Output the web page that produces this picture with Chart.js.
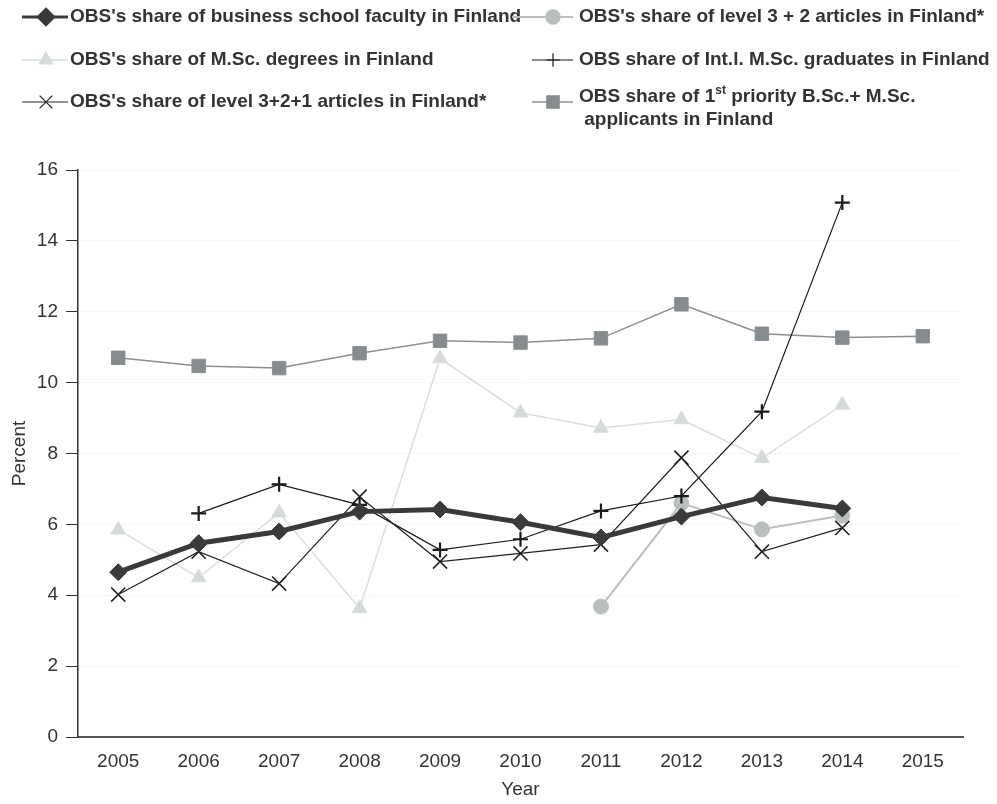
<!DOCTYPE html>
<html>
<head>
<meta charset="utf-8">
<script src="https://cdn.jsdelivr.net/npm/chart.js@4/dist/chart.umd.min.js"></script>
<style>
  html, body { margin: 0; padding: 0; background: #fff; }
  #wrap { width: 997px; height: 804px; position: relative; }
</style>
</head>
<body>
<div id="wrap"><canvas id="chart" width="997" height="804"></canvas></div>
<script>
// --- Data ---
const years = ['2005', '2006', '2007', '2008', '2009', '2010', '2011', '2012', '2013', '2014', '2015'];
const faculty = [4.65, 5.47, 5.80, 6.36, 6.42, 6.06, 5.63, 6.22, 6.76, 6.45, null];
const mscDegrees = [5.85, 4.50, 6.33, 3.63, 10.68, 9.15, 8.72, 8.96, 7.87, 9.37, null];
const articles321 = [4.02, 5.23, 4.33, 6.78, 4.95, 5.18, 5.43, 7.88, 5.23, 5.90, null];
const articles32 = [null, null, null, null, null, null, 3.68, 6.60, 5.86, 6.25, null];
const intlGrads = [null, 6.31, 7.13, 6.55, 5.28, 5.58, 6.38, 6.80, 9.18, 15.08, null];
const applicants = [10.70, 10.47, 10.41, 10.83, 11.18, 11.13, 11.25, 12.21, 11.38, 11.27, 11.31];
const yTicks = [0, 2, 4, 6, 8, 10, 12, 14, 16];

const FONT = '"Liberation Sans", Arial, sans-serif';
const TEXT = '#333';

const datasets = [
  { label: "OBS's share of business school faculty in Finland", data: faculty,
    borderColor: '#3a3a3a', backgroundColor: '#3a3a3a', borderWidth: 5,
    pointStyle: 'rectRot', pointRadius: 8.5, pointBorderWidth: 1, order: 0 },
  { label: "OBS's share of M.Sc. degrees in Finland", data: mscDegrees,
    borderColor: '#d9dedd', backgroundColor: '#d6dbda', borderWidth: 1.5,
    pointStyle: 'triangle', pointRadius: 8.5, pointBorderWidth: 1, order: 5 },
  { label: "OBS's share of level 3+2+1 articles in Finland*", data: articles321,
    borderColor: '#222', backgroundColor: '#222', borderWidth: 1.2,
    pointStyle: 'crossRot', pointRadius: 10, pointBorderWidth: 1.6, order: 2 },
  { label: "OBS's share of level 3 + 2 articles in Finland*", data: articles32,
    borderColor: '#b8bfbe', backgroundColor: '#b8bfbe', borderWidth: 2,
    pointStyle: 'circle', pointRadius: 7.5, pointBorderWidth: 1, order: 3 },
  { label: 'OBS share of Int.l. M.Sc. graduates in Finland', data: intlGrads,
    borderColor: '#1a1a1a', backgroundColor: '#1a1a1a', borderWidth: 1.2,
    pointStyle: 'cross', pointRadius: 7.5, pointBorderWidth: 2.2, order: 1 },
  { label: 'OBS share of 1st priority B.Sc.+ M.Sc. applicants in Finland', data: applicants,
    borderColor: '#8a8f90', backgroundColor: '#868c8d', borderWidth: 1.5,
    pointStyle: 'rect', pointRadius: 9.5, pointBorderWidth: 1, order: 4 }
];

// --- Custom two column legend ---
const legendPlugin = {
  id: 'twoColLegend',
  afterDraw(chart) {
    const ctx = chart.ctx;
    const rows = [
      { ds: 0, x1: 22, x2: 68, mx: 46, tx: 70, y: 17, lines: [[datasets[0].label]] },
      { ds: 1, x1: 22, x2: 68, mx: 46, tx: 70, y: 60, lines: [[datasets[1].label]] },
      { ds: 2, x1: 22, x2: 68, mx: 46, tx: 70, y: 102, lines: [[datasets[2].label]] },
      { ds: 3, x1: 512, x2: 573, mx: 553, tx: 579, y: 17, lines: [[datasets[3].label]] },
      { ds: 4, x1: 532, x2: 573, mx: 553, tx: 579, y: 60, lines: [[datasets[4].label]] },
      { ds: 5, x1: 532, x2: 573, mx: 553, tx: 579, y: 102,
        lines: [['OBS share of 1', 'st', ' priority B.Sc.+ M.Sc.'], [' applicants in Finland']] }
    ];
    ctx.save();
    rows.forEach(r => {
      const d = datasets[r.ds];
      ctx.strokeStyle = d.borderColor;
      ctx.lineWidth = Math.min(d.borderWidth, 3);
      ctx.beginPath();
      ctx.moveTo(r.x1, r.y);
      ctx.lineTo(r.x2, r.y);
      ctx.stroke();
      ctx.fillStyle = d.backgroundColor;
      ctx.strokeStyle = d.backgroundColor;
      Chart.helpers.drawPoint(ctx, {
        pointStyle: d.pointStyle, radius: d.pointRadius * 0.9, rotation: 0,
        borderWidth: d.pointBorderWidth
      }, r.mx, r.y);

      ctx.fillStyle = TEXT;
      ctx.textBaseline = 'middle';
      ctx.textAlign = 'left';
      r.lines.forEach((parts, li) => {
        let x = r.tx;
        const y = r.y - (r.lines.length > 1 ? 5 : 0) + li * 23;
        parts.forEach((p, pi) => {
          const sup = parts.length === 3 && pi === 1;
          ctx.font = `bold ${sup ? 12 : 19}px ${FONT}`;
          ctx.fillText(p, x, sup ? y - 6 : y);
          x += ctx.measureText(p).width;
        });
      });
    });
    ctx.restore();
  }
};

new Chart(document.getElementById('chart'), {
  type: 'line',
  data: { labels: years, datasets },
  options: {
    responsive: false,
    animation: false,
    spanGaps: false,
    layout: { padding: { top: 170, right: 34, left: 0, bottom: 0 } },
    plugins: { legend: { display: false }, tooltip: { enabled: false } },
    elements: { line: { tension: 0 } },
    scales: {
      x: {
        offset: true,
        grid: { display: false },
        border: { display: true, color: '#555', width: 2 },
        ticks: { color: TEXT, font: { family: FONT, size: 19 }, padding: 5, maxRotation: 0 },
        title: { display: true, text: 'Year', color: TEXT, font: { family: FONT, size: 19 },
                 padding: { top: 4, bottom: 3 } },
        afterFit: s => { s.height = 67; }
      },
      y: {
        min: 0, max: 16,
        afterBuildTicks: s => { s.ticks = yTicks.map(v => ({ value: v })); },
        grid: { color: '#f6f6f6', tickColor: '#333', tickLength: 12, lineWidth: 1 },
        border: { color: '#333', width: 1.5 },
        ticks: { color: TEXT, font: { family: FONT, size: 19 }, padding: 8 },
        title: { display: true, text: 'Percent', color: TEXT, font: { family: FONT, size: 19 },
                 padding: { top: 8, bottom: 0 } },
        afterFit: s => { s.width = 78; }
      }
    }
  },
  plugins: [legendPlugin]
});
</script>
</body>
</html>
